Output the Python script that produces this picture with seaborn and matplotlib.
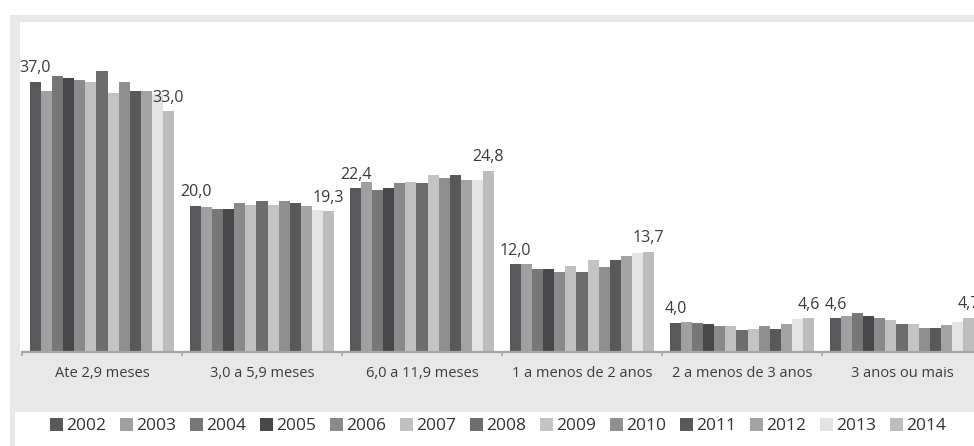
import matplotlib
matplotlib.use("Agg")
import matplotlib.pyplot as plt
from matplotlib.patches import Rectangle
from matplotlib.ticker import FixedLocator
import seaborn as sns
import pandas as pd

# Faixas de duração do desemprego e participação (%) por ano
categorias = ["Ate 2,9 meses", "3,0 a 5,9 meses", "6,0 a 11,9 meses",
              "1 a menos de 2 anos", "2 a menos de 3 anos", "3 anos ou mais"]
anos = ["2002", "2003", "2004", "2005", "2006", "2007", "2008",
        "2009", "2010", "2011", "2012", "2013", "2014"]

ate_2_9 = [37.0, 35.7, 37.8, 37.6, 37.2, 37.0, 38.5, 35.5, 37.0, 35.8, 35.8, 35.4, 33.0]
de_3_a_5_9 = [20.0, 19.8, 19.6, 19.6, 20.4, 20.2, 20.7, 20.2, 20.7, 20.4, 20.0, 19.5, 19.3]
de_6_a_11_9 = [22.4, 23.3, 22.2, 22.4, 23.1, 23.3, 23.1, 24.3, 23.8, 24.3, 23.6, 23.5, 24.8]
de_1_a_2 = [12.0, 12.0, 11.4, 11.4, 11.0, 11.8, 10.9, 12.6, 11.6, 12.6, 13.1, 13.5, 13.7]
de_2_a_3 = [4.0, 4.1, 4.0, 3.8, 3.6, 3.6, 3.0, 3.2, 3.6, 3.2, 3.8, 4.5, 4.6]
mais_de_3 = [4.6, 5.0, 5.4, 5.0, 4.6, 4.4, 3.9, 3.9, 3.3, 3.3, 3.7, 4.1, 4.7]

cores = ["#59595b", "#a0a0a0", "#777778", "#48484a", "#8a8a8a", "#c0c0c0",
         "#6d6d6e", "#c3c3c3", "#8f8f8f", "#59595b", "#a3a3a3", "#e3e3e3", "#bdbdbd"]

series = [ate_2_9, de_3_a_5_9, de_6_a_11_9, de_1_a_2, de_2_a_3, mais_de_3]
linhas = []
for cat, vals in zip(categorias, series):
    for ano, v in zip(anos, vals):
        linhas.append({"faixa": cat, "ano": ano, "valor": v})
df = pd.DataFrame(linhas)

sns.set_theme(style="white")
plt.rcParams["font.family"] = ["Open Sans", "DejaVu Sans"]

W, H = 974, 446
fig = plt.figure(figsize=(W / 100, H / 100), dpi=100)
fig.patch.set_facecolor("white")

cinza = "#e8e8e8"

def faixa(x0, y0, x1, y1):
    # retângulo em pixels (origem no topo), desenhado por baixo dos eixos
    fig.patches.append(Rectangle((x0 / W, 1 - y1 / H), (x1 - x0) / W, (y1 - y0) / H,
                                 transform=fig.transFigure, facecolor=cinza,
                                 edgecolor="none", zorder=-5))

faixa(10, 15, W, 22)      # topo
faixa(10, 15, 20, 353)    # esquerda da área do gráfico
faixa(10, 353, W, 412)    # faixa dos rótulos do eixo x
faixa(10, 412, 15, H)     # esquerda da legenda

ax = fig.add_axes([22 / W, (H - 352) / H, 960 / W, 330 / H])
ax.set_facecolor("white")

sns.barplot(data=df, x="faixa", y="valor", hue="ano", hue_order=anos,
            order=categorias, palette=cores, saturation=1, width=0.9,
            dodge=True, gap=0, edgecolor="none", linewidth=0, ax=ax,
            legend=False)

ax.set_xlim(-0.5, len(categorias) - 0.5)
ax.set_ylim(0, 330 / 7.3)
ax.set_xlabel("")
ax.set_ylabel("")
ax.set_yticks([])

for s in ["top", "right", "left"]:
    ax.spines[s].set_visible(False)
ax.spines["bottom"].set_color("#a6a6a6")
ax.spines["bottom"].set_linewidth(1.6)

ax.tick_params(axis="x", which="major", length=0, pad=10, labelsize=10.5,
               labelcolor="#3c3c3c")
ax.xaxis.set_minor_locator(FixedLocator([i - 0.5 for i in range(len(categorias) + 1)]))
ax.tick_params(axis="x", which="minor", length=3, width=1.2, color="#a6a6a6",
               direction="out", bottom=True)

def fmt(v):
    return f"{v:.1f}".replace(".", ",")

# rótulos de valor no primeiro e no último ano
for idx in (0, len(anos) - 1):
    cont = ax.containers[idx]
    vals = [s[idx] for s in series]
    ax.bar_label(cont, labels=[fmt(v) for v in vals], padding=4,
                 fontsize=11.5, color="#3a3a3a")

handles = [Rectangle((0, 0), 1, 1, facecolor=c, edgecolor="none") for c in cores]
fig.legend(handles, anos, loc="center", bbox_to_anchor=(498 / W, 1 - 426 / H),
           ncol=len(anos), frameon=False, handlelength=0.75, handleheight=0.75,
           handletextpad=0.2, columnspacing=0.78, fontsize=12.5,
           labelcolor="#333333", borderaxespad=0, borderpad=0)

fig.savefig("out.png", dpi=100, facecolor="white")
